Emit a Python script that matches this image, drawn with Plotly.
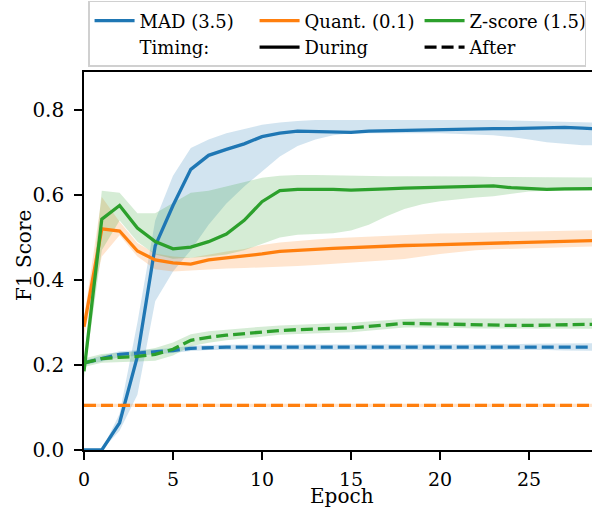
import plotly.graph_objects as go

epochs = list(range(30))

mad_during = [0.0, 0.0, 0.064, 0.22, 0.48, 0.575, 0.66, 0.693, 0.707, 0.72, 0.737, 0.745, 0.75, 0.749, 0.748, 0.747, 0.75, 0.751, 0.752, 0.752, 0.753, 0.755, 0.756, 0.756, 0.756, 0.757, 0.759, 0.759, 0.757, 0.755]
mad_during_lo = [0.0, 0.0, 0.045, 0.13, 0.35, 0.42, 0.47, 0.53, 0.58, 0.62, 0.655, 0.69, 0.715, 0.73, 0.74, 0.745, 0.745, 0.745, 0.745, 0.745, 0.745, 0.744, 0.742, 0.74, 0.736, 0.73, 0.724, 0.72, 0.717, 0.716]
mad_during_hi = [0.0, 0.0, 0.085, 0.30, 0.54, 0.645, 0.71, 0.73, 0.745, 0.755, 0.765, 0.77, 0.774, 0.776, 0.776, 0.776, 0.777, 0.777, 0.777, 0.777, 0.777, 0.777, 0.777, 0.776, 0.775, 0.774, 0.772, 0.771, 0.77, 0.77]

mad_after = [0.205, 0.215, 0.225, 0.228, 0.231, 0.234, 0.239, 0.241, 0.242, 0.242, 0.242, 0.242, 0.242, 0.242, 0.242, 0.242, 0.242, 0.242, 0.242, 0.243, 0.243, 0.243, 0.243, 0.243, 0.243, 0.243, 0.243, 0.243, 0.242, 0.242]
mad_after_lo = [0.2, 0.208, 0.218, 0.222, 0.225, 0.228, 0.233, 0.235, 0.236, 0.236, 0.236, 0.236, 0.236, 0.236, 0.236, 0.236, 0.236, 0.236, 0.236, 0.236, 0.236, 0.236, 0.236, 0.236, 0.236, 0.235, 0.235, 0.234, 0.233, 0.233]
mad_after_hi = [0.21, 0.222, 0.232, 0.234, 0.237, 0.24, 0.245, 0.247, 0.248, 0.248, 0.248, 0.248, 0.248, 0.248, 0.248, 0.248, 0.248, 0.248, 0.248, 0.249, 0.249, 0.249, 0.249, 0.249, 0.249, 0.25, 0.25, 0.251, 0.251, 0.251]

quant_during = [0.29, 0.52, 0.515, 0.468, 0.447, 0.44, 0.437, 0.447, 0.452, 0.456, 0.461, 0.467, 0.47, 0.472, 0.474, 0.476, 0.478, 0.48, 0.481, 0.482, 0.483, 0.485, 0.486, 0.487, 0.488, 0.489, 0.49, 0.491, 0.492, 0.493]
quant_during_lo = [0.27, 0.455, 0.505, 0.455, 0.425, 0.42, 0.422, 0.425, 0.427, 0.428, 0.43, 0.431, 0.433, 0.435, 0.437, 0.44, 0.443, 0.446, 0.449, 0.455, 0.461, 0.466, 0.47, 0.472, 0.474, 0.475, 0.476, 0.477, 0.478, 0.479]
quant_during_hi = [0.31, 0.595, 0.537, 0.487, 0.462, 0.455, 0.452, 0.46, 0.467, 0.473, 0.482, 0.488, 0.492, 0.495, 0.498, 0.5, 0.502, 0.504, 0.506, 0.508, 0.509, 0.51, 0.511, 0.512, 0.513, 0.514, 0.515, 0.516, 0.516, 0.517]

quant_after = [0.105, 0.105, 0.105, 0.105, 0.105, 0.105, 0.105, 0.105, 0.105, 0.105, 0.105, 0.105, 0.105, 0.105, 0.105, 0.105, 0.105, 0.105, 0.105, 0.105, 0.105, 0.105, 0.105, 0.105, 0.105, 0.105, 0.105, 0.105, 0.105, 0.105]
quant_after_lo = [0.101, 0.101, 0.101, 0.101, 0.101, 0.101, 0.101, 0.101, 0.101, 0.101, 0.101, 0.101, 0.101, 0.101, 0.101, 0.101, 0.101, 0.101, 0.101, 0.101, 0.101, 0.101, 0.101, 0.101, 0.101, 0.101, 0.101, 0.101, 0.101, 0.101]
quant_after_hi = [0.109, 0.109, 0.109, 0.109, 0.109, 0.109, 0.109, 0.109, 0.109, 0.109, 0.109, 0.109, 0.109, 0.109, 0.109, 0.109, 0.109, 0.109, 0.109, 0.109, 0.109, 0.109, 0.109, 0.109, 0.109, 0.109, 0.109, 0.109, 0.109, 0.109]

zscore_during = [0.185, 0.543, 0.575, 0.522, 0.49, 0.473, 0.477, 0.49, 0.508, 0.54, 0.584, 0.61, 0.613, 0.613, 0.613, 0.611, 0.612, 0.614, 0.616, 0.617, 0.618, 0.618, 0.619, 0.621, 0.617, 0.615, 0.613, 0.614, 0.615, 0.615]
zscore_during_lo = [0.17, 0.47, 0.54, 0.49, 0.46, 0.45, 0.452, 0.455, 0.46, 0.47, 0.485, 0.5, 0.506, 0.508, 0.51, 0.516, 0.53, 0.55, 0.567, 0.578, 0.585, 0.59, 0.594, 0.597, 0.603, 0.608, 0.61, 0.61, 0.61, 0.61]
zscore_during_hi = [0.2, 0.61, 0.605, 0.557, 0.557, 0.58, 0.605, 0.61, 0.62, 0.63, 0.64, 0.645, 0.647, 0.647, 0.646, 0.645, 0.645, 0.644, 0.644, 0.644, 0.643, 0.643, 0.643, 0.642, 0.642, 0.641, 0.641, 0.641, 0.641, 0.641]

zscore_after = [0.205, 0.215, 0.218, 0.22, 0.225, 0.237, 0.258, 0.265, 0.27, 0.274, 0.277, 0.281, 0.283, 0.285, 0.286, 0.287, 0.29, 0.294, 0.298, 0.297, 0.296, 0.295, 0.294, 0.293, 0.293, 0.293, 0.294, 0.295, 0.296, 0.296]
zscore_after_lo = [0.195, 0.205, 0.207, 0.208, 0.21, 0.222, 0.244, 0.252, 0.258, 0.263, 0.267, 0.271, 0.273, 0.275, 0.276, 0.277, 0.28, 0.284, 0.288, 0.288, 0.288, 0.287, 0.286, 0.285, 0.285, 0.285, 0.285, 0.285, 0.285, 0.285]
zscore_after_hi = [0.215, 0.226, 0.229, 0.232, 0.24, 0.253, 0.272, 0.279, 0.283, 0.287, 0.29, 0.293, 0.295, 0.297, 0.298, 0.299, 0.302, 0.305, 0.308, 0.309, 0.309, 0.309, 0.309, 0.309, 0.309, 0.309, 0.309, 0.31, 0.31, 0.31]

method_names = ["MAD (3.5)", "Quant. (0.1)", "Z-score (1.5)"]
timing_names = ["Timing:", "During", "After"]
x_title = "Epoch"
y_title = "F1 Score"
y_ticks = [0.0, 0.2, 0.4, 0.6, 0.8]
x_ticks = [0, 5, 10, 15, 20, 25]

colors = ["#1f77b4", "#ff7f0e", "#2ca02c"]
fills = ["rgba(31,119,180,0.2)", "rgba(255,127,14,0.2)", "rgba(44,160,44,0.2)"]
DASH = "12px,5px"
FONT = "DejaVu Serif"
LW = 3.3

series = [
    (mad_during, mad_during_lo, mad_during_hi, mad_after, mad_after_lo, mad_after_hi),
    (quant_during, quant_during_lo, quant_during_hi, quant_after, quant_after_lo, quant_after_hi),
    (zscore_during, zscore_during_lo, zscore_during_hi, zscore_after, zscore_after_lo, zscore_after_hi),
]

fig = go.Figure()

# shaded bands
for i, (d, dlo, dhi, a, alo, ahi) in enumerate(series):
    for lo, hi in ((dlo, dhi), (alo, ahi)):
        fig.add_trace(go.Scatter(
            x=epochs + epochs[::-1], y=hi + lo[::-1], fill="toself",
            fillcolor=fills[i], line=dict(width=0), mode="lines",
            showlegend=False, hoverinfo="skip"))

# mean lines
for i, (d, dlo, dhi, a, alo, ahi) in enumerate(series):
    fig.add_trace(go.Scatter(x=epochs, y=d, mode="lines",
                             line=dict(color=colors[i], width=LW),
                             showlegend=False))
    fig.add_trace(go.Scatter(x=epochs, y=a, mode="lines",
                             line=dict(color=colors[i], width=LW, dash=DASH),
                             showlegend=False))

# legend entries
for i, name in enumerate(method_names):
    fig.add_trace(go.Scatter(x=[None], y=[None], mode="lines", name=name,
                             line=dict(color=colors[i], width=LW)))
fig.add_trace(go.Scatter(x=[None], y=[None], mode="lines", name=timing_names[0],
                         line=dict(color="rgba(0,0,0,0)", width=LW)))
fig.add_trace(go.Scatter(x=[None], y=[None], mode="lines", name=timing_names[1],
                         line=dict(color="black", width=LW)))
fig.add_trace(go.Scatter(x=[None], y=[None], mode="lines", name=timing_names[2],
                         line=dict(color="black", width=LW, dash=DASH)))

fig.update_layout(
    width=592, height=509,
    margin=dict(l=84, r=0, t=72, b=59),
    paper_bgcolor="white", plot_bgcolor="white",
    font=dict(family=FONT, size=20, color="black"),
    showlegend=True,
    legend=dict(orientation="h", x=0.008, xanchor="left", y=1.188, yanchor="top",
                entrywidth=110, itemwidth=40, traceorder="normal",
                bordercolor="#d0d0d0", borderwidth=1.5, bgcolor="white",
                font=dict(family=FONT, size=18)),
    xaxis=dict(range=[0, 28.54], tickvals=x_ticks, showline=True, linecolor="black",
               linewidth=1.6, mirror=True, ticks="outside", ticklen=8, tickwidth=1.6,
               tickcolor="black", showgrid=False, zeroline=False,
               ticklabelstandoff=3,
               tickfont=dict(family=FONT, size=19)),
    yaxis=dict(range=[0, 0.889], tickvals=y_ticks, tickformat=".1f", showline=True,
               linecolor="black", linewidth=1.6, mirror=False, ticks="outside",
               ticklen=8, tickwidth=1.6, tickcolor="black", showgrid=False,
               zeroline=False, ticklabelstandoff=6,
               tickfont=dict(family=FONT, size=20)),
    annotations=[
        dict(text=y_title, textangle=-90, xref="paper", yref="paper", x=0, y=0.5,
             xanchor="center", yanchor="middle", xshift=-60, yshift=5,
             showarrow=False, font=dict(family=FONT, size=20)),
        dict(text=x_title, xref="paper", yref="paper", x=0.507, y=0,
             xanchor="center", yanchor="bottom", yshift=-59, borderpad=0,
             showarrow=False, font=dict(family=FONT, size=20)),
    ],
)

fig.write_html("out.html")
